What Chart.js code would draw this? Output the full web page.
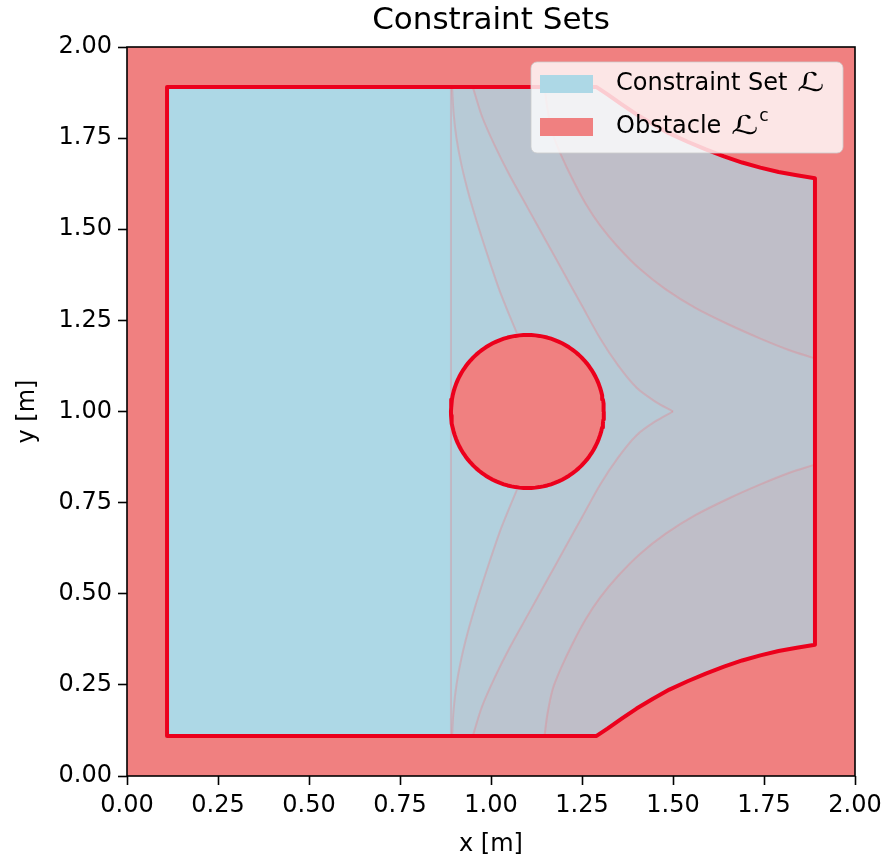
<!DOCTYPE html>
<html>
<head>
<meta charset="utf-8">
<script src="https://cdn.jsdelivr.net/npm/chart.js@4/dist/chart.umd.min.js"></script>
<style>
  html, body { margin: 0; padding: 0; background: #ffffff; }
  #wrap { width: 888px; height: 863px; }
</style>
</head>
<body>
<div id="wrap"><canvas id="chart" width="888" height="863"></canvas></div>
<script>
// Axis ticks
const xTickValues = [0, 0.25, 0.5, 0.75, 1, 1.25, 1.5, 1.75, 2];
const xTickLabels = ['0.00', '0.25', '0.50', '0.75', '1.00', '1.25', '1.50', '1.75', '2.00'];
const yTickValues = [0, 0.25, 0.5, 0.75, 1, 1.25, 1.5, 1.75, 2];
const yTickLabels = ['0.00', '0.25', '0.50', '0.75', '1.00', '1.25', '1.50', '1.75', '2.00'];

// Workspace square (everything outside the constraint set is obstacle)
const workspace = [[0, 0], [2, 0], [2, 2], [0, 2], [0, 0]];

// Constraint set boundary: lower rim (left to right) and upper rim (right to left)
const bottomRim = [[0.11, 0.11], [1.29, 0.11], [1.32, 0.13], [1.36, 0.158], [1.40, 0.185],
  [1.445, 0.212], [1.49, 0.237], [1.54, 0.26], [1.59, 0.281], [1.64, 0.30], [1.69, 0.317],
  [1.74, 0.331], [1.79, 0.343], [1.84, 0.352], [1.89, 0.36]];
const topRim = [[1.89, 1.64], [1.84, 1.648], [1.79, 1.657], [1.74, 1.669], [1.69, 1.683],
  [1.64, 1.70], [1.59, 1.719], [1.54, 1.74], [1.49, 1.763], [1.445, 1.788], [1.40, 1.815],
  [1.36, 1.842], [1.32, 1.87], [1.29, 1.89], [0.11, 1.89]];

// Circular obstacle
const obstacleCenter = [1.1, 1.0];
const obstacleRadius = 0.21;

// Level-set edges of the shaded sub-regions
const shadowEdge = [[0.89, 0.11], [0.89, 1.89]];
const curveA = [[0.893, 1.89], [0.897, 1.82], [0.905, 1.75], [0.918, 1.68], [0.935, 1.61],
  [0.955, 1.54], [0.977, 1.47], [1.0, 1.40], [1.024, 1.33], [1.048, 1.27], [1.071, 1.215]];
const curveAlow = [[1.071, 0.785], [1.048, 0.73], [1.024, 0.67], [1.0, 0.60], [0.977, 0.53],
  [0.955, 0.46], [0.935, 0.39], [0.918, 0.32], [0.905, 0.25], [0.897, 0.18], [0.893, 0.11]];
const curveB = [[0.95, 1.89], [0.975, 1.81], [1.01, 1.73], [1.05, 1.65], [1.10, 1.56],
  [1.15, 1.47], [1.20, 1.38], [1.25, 1.29], [1.30, 1.20], [1.35, 1.125], [1.40, 1.065],
  [1.45, 1.028], [1.5, 1.0]];
const curveBlow = [[1.5, 1.0], [1.45, 0.972], [1.40, 0.935], [1.35, 0.875], [1.30, 0.80],
  [1.25, 0.71], [1.20, 0.62], [1.15, 0.53], [1.10, 0.44], [1.05, 0.35], [1.01, 0.27],
  [0.975, 0.19], [0.95, 0.11]];
const curveC = [[1.147, 1.89], [1.155, 1.83], [1.17, 1.76], [1.194, 1.70], [1.225, 1.635],
  [1.26, 1.57], [1.30, 1.51], [1.35, 1.45], [1.41, 1.39], [1.48, 1.335], [1.56, 1.285],
  [1.65, 1.24], [1.74, 1.20], [1.82, 1.168], [1.885, 1.147]];
const curveClow = [[1.885, 0.853], [1.82, 0.832], [1.74, 0.80], [1.65, 0.76], [1.56, 0.715],
  [1.48, 0.665], [1.41, 0.61], [1.35, 0.55], [1.30, 0.49], [1.26, 0.43], [1.225, 0.365],
  [1.194, 0.30], [1.17, 0.24], [1.155, 0.17], [1.147, 0.11]];

const legendLabels = ['Constraint Set \u2112', 'Obstacle \u2112'];
const legendSup = ['', 'c'];

// Colours
const SAFE = '#ADD8E6';
const UNSAFE = '#F08080';
const EDGE = 'rgb(236, 0, 28)';
const SHADE = 'rgba(240, 128, 128, 0.08)';
const SHADE_EDGE = 'rgba(232, 120, 130, 0.32)';
const FONT = '"DejaVu Sans", "Liberation Sans", sans-serif';

const pts = arr => arr.map(p => ({x: p[0], y: p[1]}));
const rightBottom = bottomRim.slice(1);
const rightTop = topRim.slice(0, -1);

const constraintOutline = [...bottomRim, ...topRim, bottomRim[0]];
const region1 = [shadowEdge[0], ...rightBottom, ...rightTop, shadowEdge[1], shadowEdge[0]];
const region2 = [...curveA, ...curveAlow, ...rightBottom, ...rightTop, curveA[0]];
const region3 = [...curveB, ...curveBlow.slice(1), ...rightBottom, ...rightTop, curveB[0]];
const region4top = [...curveC, ...rightTop, curveC[0]];
const region4bottom = [...curveClow, ...rightBottom, curveClow[0]];

// Circle outline from its centre and radius
const circle = [];
for (let k = 0; k <= 120; k++) {
  const t = (k / 120) * 2 * Math.PI;
  circle.push([obstacleCenter[0] + obstacleRadius * Math.cos(t), obstacleCenter[1] + obstacleRadius * Math.sin(t)]);
}

const base = {showLine: true, pointRadius: 0, pointHoverRadius: 0, tension: 0, borderJoinStyle: 'round'};
const shade = (data, order) => Object.assign({}, base, {
  data: pts(data), fill: 'shape', backgroundColor: SHADE, borderWidth: 0, borderColor: 'rgba(0,0,0,0)', order
});
const edge = data => Object.assign({}, base, {
  data: pts(data), fill: false, borderColor: SHADE_EDGE, borderWidth: 2, tension: 0.3, order: 3
});

const datasets = [
  Object.assign({}, base, {label: legendLabels[1], data: pts(workspace), fill: 'shape',
    backgroundColor: UNSAFE, borderWidth: 0, borderColor: 'rgba(0,0,0,0)', order: 10}),
  Object.assign({}, base, {label: legendLabels[0], data: pts(constraintOutline), fill: 'shape',
    backgroundColor: SAFE, borderWidth: 0, borderColor: 'rgba(0,0,0,0)', order: 9}),
  shade(region1, 8),
  shade(region2, 7),
  shade(region3, 6),
  shade(region4top, 5),
  shade(region4bottom, 5),
  edge(shadowEdge),
  edge(curveA), edge(curveAlow),
  edge(curveB), edge(curveBlow),
  edge(curveC), edge(curveClow),
  Object.assign({}, base, {data: pts(constraintOutline), fill: false, borderColor: EDGE, borderWidth: 4, order: 2}),
  Object.assign({}, base, {data: pts(circle), fill: 'shape', backgroundColor: UNSAFE,
    borderColor: EDGE, borderWidth: 4, order: 1})
];

// Frame around the plotting area
const frame = {
  id: 'frame',
  afterDatasetsDraw(chart) {
    const {ctx, chartArea: a} = chart;
    ctx.save();
    ctx.strokeStyle = '#000';
    ctx.lineWidth = 1.6;
    ctx.strokeRect(a.left, a.top, a.right - a.left, a.bottom - a.top);
    ctx.restore();
  }
};

// Legend box in the upper right of the plotting area
const legendBox = {
  id: 'legendBox',
  afterDatasetsDraw(chart) {
    const {ctx, chartArea: a} = chart;
    const w = 312, h = 91;
    const x0 = a.right - 12 - w, y0 = a.top + 15, r = 6;
    ctx.save();
    ctx.beginPath();
    ctx.moveTo(x0 + r, y0);
    ctx.arcTo(x0 + w, y0, x0 + w, y0 + h, r);
    ctx.arcTo(x0 + w, y0 + h, x0, y0 + h, r);
    ctx.arcTo(x0, y0 + h, x0, y0, r);
    ctx.arcTo(x0, y0, x0 + w, y0, r);
    ctx.closePath();
    ctx.fillStyle = 'rgba(255,255,255,0.8)';
    ctx.fill();
    ctx.strokeStyle = 'rgba(204,204,204,0.8)';
    ctx.lineWidth = 1;
    ctx.stroke();
    const swatches = [SAFE, UNSAFE];
    legendLabels.forEach((label, i) => {
      const cy = y0 + 22 + i * 43;
      ctx.fillStyle = swatches[i];
      ctx.fillRect(x0 + 9, cy - 9, 53, 18);
      ctx.fillStyle = '#000';
      ctx.textBaseline = 'middle';
      ctx.textAlign = 'left';
      // plain part, then the script letter drawn wider
      const plain = label.slice(0, -1);
      ctx.font = '24px ' + FONT;
      ctx.fillText(plain, x0 + 85, cy);
      const pw = ctx.measureText(plain).width;
      ctx.font = 'italic 26px ' + FONT;
      const lw = ctx.measureText(label.slice(-1)).width * 1.45;
      ctx.save();
      ctx.translate(x0 + 87 + pw, cy);
      ctx.scale(1.45, 1);
      ctx.fillText(label.slice(-1), 0, 0);
      ctx.restore();
      if (legendSup[i]) {
        ctx.font = '17px ' + FONT;
        ctx.fillText(legendSup[i], x0 + 88 + pw + lw, cy - 10);
      }
    });
    ctx.restore();
  }
};

const tickFont = {family: FONT, size: 24};

new Chart(document.getElementById('chart'), {
  type: 'scatter',
  data: {datasets},
  options: {
    responsive: false,
    animation: false,
    devicePixelRatio: 1,
    layout: {padding: {left: 0, right: 33, top: 0, bottom: 0}},
    plugins: {
      legend: {display: false},
      tooltip: {enabled: false},
      filler: {drawTime: 'beforeDatasetDraw'},
      title: {
        display: true, text: 'Constraint Sets', fullSize: false, color: '#000',
        font: {family: FONT, size: 31, weight: 'normal'}, padding: {top: 2, bottom: 7.8}
      }
    },
    scales: {
      x: {
        type: 'linear', min: 0, max: 2,
        afterBuildTicks: s => { s.ticks = xTickValues.map(v => ({value: v})); },
        afterFit: s => { s.height = 87; },
        border: {display: false},
        grid: {drawOnChartArea: false, drawTicks: true, tickLength: 9, tickColor: '#000', tickWidth: 1.6},
        ticks: {font: tickFont, color: '#000', padding: 6, maxRotation: 0, autoSkip: false,
          callback: (v, i) => xTickLabels[i]},
        title: {display: true, text: 'x [m]', color: '#000', font: tickFont, padding: {top: 0, bottom: 3.6}}
      },
      y: {
        type: 'linear', min: 0, max: 2,
        afterBuildTicks: s => { s.ticks = yTickValues.map(v => ({value: v})); },
        afterFit: s => { s.width = 127; },
        border: {display: false},
        grid: {drawOnChartArea: false, drawTicks: true, tickLength: 9, tickColor: '#000', tickWidth: 1.6},
        ticks: {font: tickFont, color: '#000', padding: 6, autoSkip: false,
          callback: (v, i) => yTickLabels[i]},
        title: {display: true, text: 'y [m]', color: '#000', font: tickFont, padding: {top: 13.6, bottom: 0}}
      }
    }
  },
  plugins: [frame, legendBox]
});
</script>
</body>
</html>
